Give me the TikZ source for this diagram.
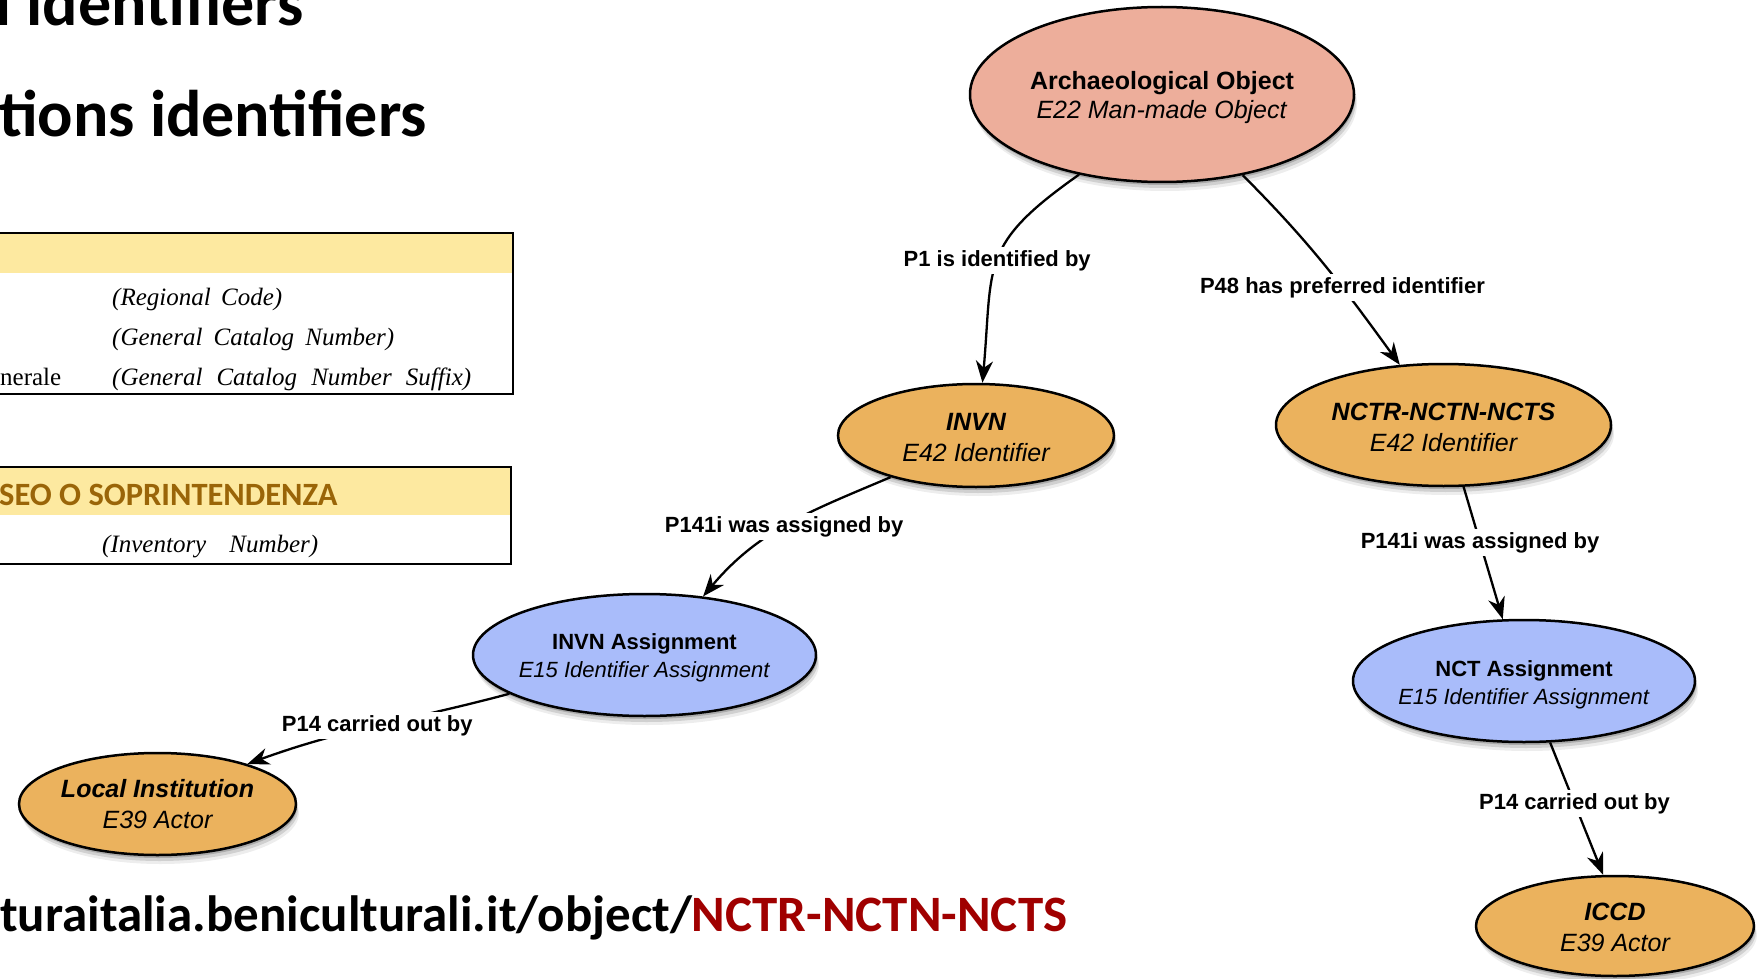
\documentclass[tikz,border=0pt]{standalone}
\usepackage{fontspec}
\setmainfont{Liberation Sans}
\newfontfamily\arialf{Liberation Sans}
\newfontfamily\titlef{Carlito}
\newfontfamily\serf{Liberation Serif}
\usetikzlibrary{shapes.geometric,arrows.meta,shadows}
\definecolor{salmonfill}{HTML}{EDAE9B}
\definecolor{orangefill}{HTML}{EBB25D}
\definecolor{bluefill}{HTML}{A9BCFA}
\definecolor{tabyellow}{HTML}{FDE9A0}
\definecolor{goldtext}{HTML}{9A6508}
\definecolor{urlred}{HTML}{A00000}
\tikzset{
  ent/.style={ellipse, draw=black, line width=2.5pt, inner sep=0pt, inner xsep=-14pt, align=center,
    drop shadow={shadow xshift=1pt,shadow yshift=-3pt,opacity=.18,fill=black},
    drop shadow={shadow xshift=2pt,shadow yshift=-6pt,opacity=.12,fill=black},
    drop shadow={shadow xshift=3pt,shadow yshift=-9pt,opacity=.07,fill=black}},
  bigent/.style={ent, font=\arialf\fontsize{25}{31}\selectfont},
  smallent/.style={ent, font=\arialf\fontsize{22}{28}\selectfont},
  rel/.style={line width=2.3pt, -{Stealth[length=22pt,width=17pt,inset=7pt]}},
  lbl/.style={fill=white, inner xsep=3pt, inner ysep=3pt, font=\arialf\bfseries\fontsize{22}{24}\selectfont},
  tabtext/.style={anchor=base west, inner sep=0pt, font=\serf\itshape\fontsize{25}{30}\selectfont},
  titletext/.style={anchor=base west, inner sep=0pt, font=\titlef\bfseries\fontsize{66}{74}\selectfont},
  tabbox/.style={line width=2.5pt}
}
\begin{document}
\begin{tikzpicture}[x=1pt,y=1pt]
\path[use as bounding box, fill=white] (0,0) rectangle (1757,-979);

% titles
\node[titletext] (title1) at (-6,-26) {I identifiers};
\node[titletext] (title2) at (-1,-137) {tions identifiers};

% table 1
\fill[tabyellow] (-5,-233) rectangle (513,-273);
\draw[tabbox] (-5,-233) rectangle (513,-394);
\node[tabtext] (t1) at (112,-305) {\makebox[170pt][s]{(Regional Code)}};
\node[tabtext] (t2) at (112,-345) {\makebox[282pt][s]{(General Catalog Number)}};
\node[tabtext, font=\serf\fontsize{25}{30}\selectfont] (t0) at (0,-385) {nerale};
\node[tabtext] (t3) at (112,-385) {\makebox[359pt][s]{(General Catalog Number Suffix)}};

% table 2
\fill[tabyellow] (-5,-467) rectangle (511,-515);
\draw[tabbox] (-5,-467) rectangle (511,-564);
\node[anchor=base west, inner sep=0pt, text=goldtext, font=\titlef\bfseries\fontsize{32.5}{36}\selectfont] (hdr2) at (-1,-505) {SEO O SOPRINTENDENZA};
\node[tabtext] (t5) at (102,-552) {\makebox[216pt][s]{(Inventory Number)}};

% URL
\node[anchor=base west, inner sep=0pt, font=\titlef\bfseries\fontsize{51}{60}\selectfont] (url) at (0,-931) {turaitalia.beniculturali.it/object/\textcolor{urlred}{NCTR-NCTN-NCTS}};

% entities
\node[bigent, font=\arialf\fontsize{25}{29}\selectfont, fill=salmonfill, minimum width=384pt, minimum height=175pt] (ao) at (1162,-94.5) {\rule{0pt}{25pt}\textbf{Archaeological Object}\\\textit{E22 Man-made Object}};
\node[bigent, fill=orangefill, minimum width=276pt, minimum height=103pt] (invn) at (976,-435.5) {\rule{0pt}{22pt}{\bfseries\itshape INVN}\\{\itshape E42 Identifier}};
\node[bigent, fill=orangefill, minimum width=335pt, minimum height=122pt] (nctr) at (1443.5,-425) {\rule{0pt}{21.5pt}{\bfseries\itshape NCTR-NCTN-NCTS}\\{\itshape E42 Identifier}};
\node[smallent, fill=bluefill, minimum width=343pt, minimum height=122pt] (ia) at (644.5,-655) {\rule{0pt}{21pt}\textbf{INVN Assignment}\\\textit{E15 Identifier Assignment}};
\node[smallent, fill=bluefill, minimum width=342pt, minimum height=122pt] (nct) at (1524,-681) {\rule{0pt}{24pt}\textbf{NCT Assignment}\\\textit{E15 Identifier Assignment}};
\node[bigent, fill=orangefill, minimum width=277pt, minimum height=102pt] (local) at (157.5,-804) {{\bfseries\itshape Local Institution}\\{\itshape E39 Actor}};
\node[bigent, fill=orangefill, minimum width=278pt, minimum height=100pt] (iccd) at (1615,-926) {\rule{0pt}{20pt}{\bfseries\itshape ICCD}\\{\itshape E39 Actor}};

% connectors
\draw[rel] (ao.224) .. controls (979,-245) and (993,-263.5) .. node[lbl, pos=.5] {P1 is identified by} (invn.83);
\draw[rel] (ao.-45) to[out=-45, in=126] node[lbl, pos=.62] {P48 has preferred identifier} (nctr.126);
\draw[rel] (invn.206) to[out=203, in=50] node[lbl, pos=.52] {P141i was assigned by} (ia.45);
\draw[rel] (ia.196) to[out=195, in=20] node[lbl, pos=.5] {P14 carried out by} (local.24);
\draw[rel] (nctr.-72) -- node[lbl, pos=.42] {P141i was assigned by} (nct.109);
\draw[rel] (nct.-67) -- node[lbl, pos=.46] {P14 carried out by} (iccd.103);
\end{tikzpicture}
\end{document}
